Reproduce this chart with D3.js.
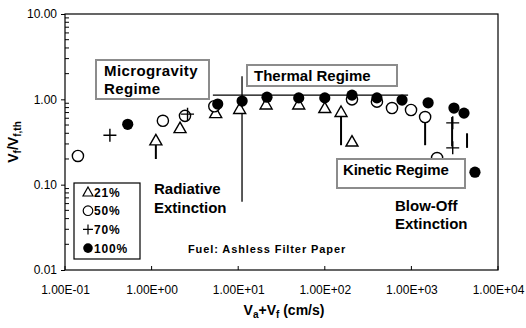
<!DOCTYPE html>
<html><head><meta charset="utf-8">
<script src="https://cdn.jsdelivr.net/npm/d3@7"></script>
<style>
html,body{margin:0;padding:0;background:#fff;}
svg{display:block;font-family:"Liberation Sans",Arial,sans-serif;}
</style></head>
<body>
<svg id="c" width="526" height="328"></svg>
<script>
// ---- data ----
const xTickValues = [0.1, 1, 10, 100, 1000, 10000];
const xTickLabels = ["1.00E-01","1.00E+00","1.00E+01","1.00E+02","1.00E+03","1.00E+04"];
const yTickValues = [0.01, 0.1, 1, 10];
const yTickLabels = ["0.01","0.10","1.00","10.00"];

const series21 = [[1.12,0.33],[2.13,0.46],[5.5,0.69],[10.4,0.77],[21,0.87],[50,0.87],[100,0.79],[154,0.71],[206,0.32]];
const series50 = [[0.141,0.217],[1.35,0.56],[2.43,0.64],[5.3,0.83],[206,1.0],[400,0.94],[597,0.79],[990,0.75],[1440,0.62],[1980,0.205]];
const series70 = [[0.33,0.38],[2.6,0.67],[3000,0.53],[3000,0.27]];
const series100 = [[0.53,0.51],[5.8,0.88],[11.1,0.955],[21.5,1.06],[50,1.04],[100,1.04],[206,1.12],[400,1.04],[780,0.98],[1560,0.91],[3100,0.79],[4050,0.69],[5420,0.14]];

// vertical error bars: x, low, high
const errorBars = [[1.12,0.20,0.33],[154,0.29,0.71],[1440,0.29,0.62],[2950,0.28,0.62],[4390,0.27,0.40]];
// reference lines: x1, y1, x2, y2
const refLines = [[5.1,1.12,916,1.12],[11.07,1.87,11.07,0.063]];

const legendLabels = ["21%","50%","70%","100%"];

// ---- chart ----
const svg = d3.select("#c");
const L=65, R=498, T=14, B=270;
const x = d3.scaleLog().domain([0.1,1e4]).range([L,R]);
const y = d3.scaleLog().domain([0.01,10]).range([B,T]);

// frame
svg.append("rect").attr("x",L).attr("y",T).attr("width",R-L).attr("height",B-T)
  .attr("fill","none").attr("stroke","#000").attr("stroke-width",1.2);

// y axis
const yAxis = d3.axisLeft(y).tickValues(yTickValues)
  .tickFormat((d,i)=>yTickLabels[i]).tickSize(4).tickPadding(4);
const ya = svg.append("g").attr("transform",`translate(${L},0)`).call(yAxis);
ya.select(".domain").remove();
ya.selectAll("text").attr("font-size",12).attr("fill","#000").attr("font-family","Liberation Sans, Arial");
// minor y ticks inside
const minor = [];
[0.01,0.1,1].forEach(b=>{for(let k=2;k<=9;k++) minor.push(b*k);});
svg.append("g").selectAll("line").data(minor).join("line")
  .attr("x1",L).attr("x2",L+4).attr("y1",d=>y(d)).attr("y2",d=>y(d))
  .attr("stroke","#000").attr("stroke-width",1);

// x axis
const xAxis = d3.axisBottom(x).tickValues(xTickValues)
  .tickFormat((d,i)=>xTickLabels[i]).tickSize(0).tickPadding(15);
const xa = svg.append("g").attr("transform",`translate(0,${B})`).call(xAxis);
xa.select(".domain").remove();
xa.selectAll("text").attr("font-size",12).attr("fill","#000");
svg.append("g").selectAll("line").data(xTickValues).join("line")
  .attr("x1",d=>x(d)).attr("x2",d=>x(d)).attr("y1",B).attr("y2",B-4)
  .attr("stroke","#000").attr("stroke-width",1);

// axis titles
const xt = svg.append("text").attr("x",284).attr("y",315).attr("text-anchor","middle")
  .attr("font-size",14).attr("font-weight","bold");
xt.append("tspan").text("V");
xt.append("tspan").text("a").attr("font-size",10).attr("baseline-shift","-25%");
xt.append("tspan").text("+V");
xt.append("tspan").text("f").attr("font-size",10).attr("baseline-shift","-25%");
xt.append("tspan").text(" (cm/s)");

const yt = svg.append("text").attr("transform","translate(18,142) rotate(-90)")
  .attr("text-anchor","middle").attr("font-size",14).attr("font-weight","bold");
yt.append("tspan").text("V");
yt.append("tspan").text("f").attr("font-size",10).attr("baseline-shift","-25%");
yt.append("tspan").text("/V");
yt.append("tspan").text("f,th").attr("font-size",10).attr("baseline-shift","-25%");

// reference lines
svg.append("g").selectAll("line").data(refLines).join("line")
  .attr("x1",d=>x(d[0])).attr("y1",d=>y(d[1])).attr("x2",d=>x(d[2])).attr("y2",d=>y(d[3]))
  .attr("stroke","#000").attr("stroke-width",1.3);

// error bars
svg.append("g").selectAll("line").data(errorBars).join("line")
  .attr("x1",d=>x(d[0])).attr("x2",d=>x(d[0])).attr("y1",d=>y(d[1])).attr("y2",d=>y(d[2]))
  .attr("stroke","#000").attr("stroke-width",2);

// markers
const triPath = "M0,-6L6,4.5L-6,4.5Z";
function drawTri(g, data){
  g.selectAll("path.tri").data(data).join("path").attr("class","tri")
    .attr("d",triPath).attr("transform",d=>`translate(${x(d[0])},${y(d[1])})`)
    .attr("fill","#fff").attr("stroke","#000").attr("stroke-width",1.4);
}
function drawOpen(g, data){
  g.selectAll("circle.op").data(data).join("circle").attr("class","op")
    .attr("cx",d=>x(d[0])).attr("cy",d=>y(d[1])).attr("r",5.6)
    .attr("fill","#fff").attr("stroke","#000").attr("stroke-width",1.4);
}
function drawPlus(g, data){
  g.selectAll("path.pl").data(data).join("path").attr("class","pl")
    .attr("d","M-6.5,0H6.5M0,-6.5V6.5").attr("transform",d=>`translate(${x(d[0])},${y(d[1])})`)
    .attr("fill","none").attr("stroke","#000").attr("stroke-width",1.4);
}
function drawFilled(g, data){
  g.selectAll("circle.fl").data(data).join("circle").attr("class","fl")
    .attr("cx",d=>x(d[0])).attr("cy",d=>y(d[1])).attr("r",5.6).attr("fill","#000");
}
const mg = svg.append("g");
drawTri(mg.append("g"), series21);
drawOpen(mg.append("g"), series50);
drawPlus(mg.append("g"), series70);
drawFilled(mg.append("g"), series100);

// annotation boxes
function box(x0,y0,w,h){
  svg.append("rect").attr("x",x0).attr("y",y0).attr("width",w).attr("height",h)
    .attr("fill","#fff").attr("stroke","#8c8c8c").attr("stroke-width",2);
}
function label(tx,ty,txt,size,ls){
  svg.append("text").attr("x",tx).attr("y",ty).attr("font-size",size||15)
    .attr("font-weight","bold").attr("letter-spacing",ls||0).text(txt);
}
box(96,60,113,39);
label(104,76,"Microgravity",15,0.4);
label(104,94,"Regime",15,0.4);
box(247,65,150,21);
label(254,81,"Thermal Regime",15,0);
box(337,159,128,29);
label(343,175,"Kinetic Regime",15,-0.2);
label(154,194,"Radiative",15,0);
label(154,213,"Extinction",15,0);
label(395,211,"Blow-Off",15,0);
label(395,229,"Extinction",15,0);
label(188,253,"Fuel: Ashless Filter Paper",11,0.9);

// legend
svg.append("rect").attr("x",74).attr("y",183).attr("width",66).attr("height",76)
  .attr("fill","#fff").attr("stroke","#000").attr("stroke-width",1.2);
const lg = svg.append("g");
const lx = 88, ly0 = 192, ldy = 18.7;
legendLabels.forEach((t,i)=>{
  const cy = ly0 + i*ldy;
  if(i===0) lg.append("path").attr("d","M0,-5L5,4L-5,4Z").attr("transform",`translate(${lx},${cy})`).attr("fill","#fff").attr("stroke","#000").attr("stroke-width",1.2);
  if(i===1) lg.append("circle").attr("cx",lx).attr("cy",cy).attr("r",4.8).attr("fill","#fff").attr("stroke","#000").attr("stroke-width",1.2);
  if(i===2) lg.append("path").attr("d","M-5,0H5M0,-5V5").attr("transform",`translate(${lx},${cy})`).attr("stroke","#000").attr("stroke-width",1.2);
  if(i===3) lg.append("circle").attr("cx",lx).attr("cy",cy).attr("r",4.8).attr("fill","#000");
  lg.append("text").attr("x",94).attr("y",cy+4.5).attr("font-size",12).attr("font-weight","bold")
    .attr("letter-spacing",0.8).text(t);
});
</script>
</body></html>
